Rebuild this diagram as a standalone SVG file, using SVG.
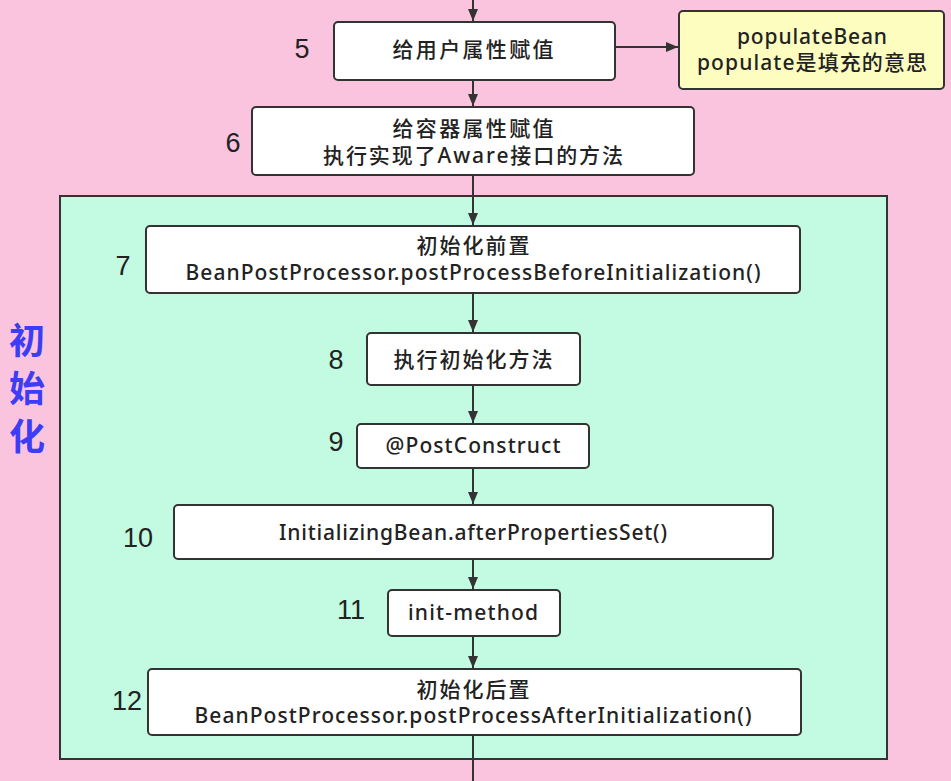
<svg xmlns="http://www.w3.org/2000/svg" width="951" height="781" viewBox="0 0 951 781">
<style>
.node rect{fill:#fff;stroke:#333;stroke-width:2}
.t{font-family:"Noto Sans","Noto Sans CJK SC",sans-serif;font-size:21px;fill:#222;text-anchor:middle;font-weight:500}
.num{font-family:"Liberation Sans",Arial,sans-serif;font-size:27px;fill:#222;text-anchor:middle}
.edge{stroke:#333;stroke-width:2;fill:none;marker-end:url(#ah)}
</style>
<defs>
<marker id="ah" viewBox="0 0 12 10" refX="12" refY="5" markerWidth="12" markerHeight="10" markerUnits="userSpaceOnUse" orient="auto">
<path d="M0,0 L12,5 L0,10 z" fill="#333"/>
</marker>
</defs>
<rect x="0" y="0" width="951" height="781" fill="#FAC4DF"/>
<g id="init-group">
<rect x="60" y="196" width="827" height="563" fill="#C2FBE1" stroke="#333" stroke-width="2"/>
<text x="27" y="354" font-family="Noto Sans CJK SC,sans-serif" font-size="36" font-weight="bold" fill="#3D3DF5" text-anchor="middle">初</text>
<text x="27" y="402" font-family="Noto Sans CJK SC,sans-serif" font-size="36" font-weight="bold" fill="#3D3DF5" text-anchor="middle">始</text>
<text x="27" y="450" font-family="Noto Sans CJK SC,sans-serif" font-size="36" font-weight="bold" fill="#3D3DF5" text-anchor="middle">化</text>
</g>
<g id="connectors">
<path class="edge" d="M473,0 V21"/>
<path class="edge" d="M473,80 V106"/>
<path class="edge" d="M615,47 H678"/>
<path class="edge" d="M473,175 V225"/>
<path class="edge" d="M473,293 V332"/>
<path class="edge" d="M473,385 V423"/>
<path class="edge" d="M473,468 V504"/>
<path class="edge" d="M473,559 V589"/>
<path class="edge" d="M473,636 V668"/>
<path d="M473,735 V781" stroke="#333" stroke-width="2"/>
</g>
<g id="n5" class="node">
<rect x="334" y="22" width="281" height="58" rx="4"/>
<text class="num" x="302" y="58">5</text>
<text class="t" x="473" y="57" textLength="161">给用户属性赋值</text>
</g>
<g id="note" class="node">
<rect x="679" y="11" width="265" height="78" rx="4" style="fill:#FDFDC0"/>
<text class="t" x="812" y="44" textLength="150">populateBean</text>
<text class="t" x="812" y="70" textLength="230">populate是填充的意思</text>
</g>
<g id="n6" class="node">
<rect x="252" y="107" width="442" height="68" rx="4"/>
<text class="num" x="233" y="152">6</text>
<text class="t" x="473" y="136" textLength="161">给容器属性赋值</text>
<text class="t" x="473" y="163" textLength="300">执行实现了Aware接口的方法</text>
</g>
<g id="n7" class="node">
<rect x="146" y="226" width="654" height="67" rx="4"/>
<text class="num" x="123" y="275">7</text>
<text class="t" x="473" y="253" textLength="113">初始化前置</text>
<text class="t" x="473" y="280" textLength="575">BeanPostProcessor.postProcessBeforeInitialization()</text>
</g>
<g id="n8" class="node">
<rect x="367" y="333" width="213" height="52" rx="4"/>
<text class="num" x="336" y="369">8</text>
<text class="t" x="473" y="367" textLength="159">执行初始化方法</text>
</g>
<g id="n9" class="node">
<rect x="357" y="424" width="232" height="44" rx="4"/>
<text class="num" x="336" y="451">9</text>
<text class="t" x="473" y="453" textLength="175">@PostConstruct</text>
</g>
<g id="n10" class="node">
<rect x="174" y="505" width="599" height="54" rx="4"/>
<text class="num" x="138" y="547">10</text>
<text class="t" x="473" y="540" textLength="388">InitializingBean.afterPropertiesSet()</text>
</g>
<g id="n11" class="node">
<rect x="388" y="590" width="172" height="46" rx="4"/>
<text class="num" x="351" y="619">11</text>
<text class="t" x="473" y="620" textLength="130">init-method</text>
</g>
<g id="n12" class="node">
<rect x="148" y="669" width="653" height="66" rx="4"/>
<text class="num" x="127" y="710">12</text>
<text class="t" x="473" y="697" textLength="113">初始化后置</text>
<text class="t" x="473" y="723" textLength="557">BeanPostProcessor.postProcessAfterInitialization()</text>
</g>
</svg>
